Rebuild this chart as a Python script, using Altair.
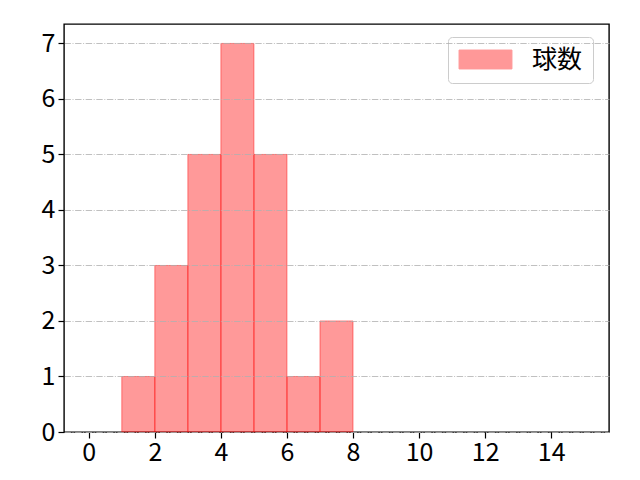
import altair as alt
import pandas as pd

bin_start = [1, 2, 3, 4, 5, 6, 7]
bin_end = [2, 3, 4, 5, 6, 7, 8]
counts = [1, 3, 5, 7, 5, 1, 2]
series = ["球数"] * len(counts)

x_ticks = [0, 2, 4, 6, 8, 10, 12, 14]
y_ticks = [0, 1, 2, 3, 4, 5, 6, 7]

df = pd.DataFrame({"start": bin_start, "end": bin_end, "count": counts, "series": series})

FONT = "Noto Sans CJK JP"
TICK_FS = 25

bars = alt.Chart(df).mark_rect(
    fillOpacity=0.4, stroke="#ff0000", strokeOpacity=0.45, strokeWidth=1
).encode(
    x=alt.X("start:Q",
            scale=alt.Scale(domain=[-0.75, 15.75], nice=False, zero=False),
            axis=alt.Axis(values=x_ticks, title=None, grid=False, format="d",
                          labelFontSize=TICK_FS, labelFont=FONT, labelColor="black",
                          tickColor="black", tickSize=6, tickWidth=1.2,
                          domain=False, labelPadding=2, labelFlush=False)),
    x2="end:Q",
    y=alt.Y("count:Q",
            scale=alt.Scale(domain=[0, 7.35], nice=False),
            axis=alt.Axis(values=y_ticks, title=None, grid=True, format="d",
                          gridColor="#b0b0b0", gridDash=[6.4, 1.6, 1, 1.6], gridWidth=0.8,
                          labelFontSize=TICK_FS, labelFont=FONT, labelColor="black",
                          tickColor="black", tickSize=6, tickWidth=1.2,
                          domain=False, labelPadding=3, zindex=1)),
    y2=alt.datum(0),
    fill=alt.Fill("series:N", scale=alt.Scale(range=["#ff0000"]),
                  legend=alt.Legend(
                      title=None, orient="none", legendX=384, legendY=13,
                      fillColor="white", strokeColor="#cccccc", cornerRadius=4,
                      padding=10,
                      symbolType="M-2.32,-0.83L2.32,-0.83L2.32,0.83L-2.32,0.83Z",
                      symbolSize=520, symbolOffset=15, symbolOpacity=0.4,
                      symbolStrokeColor="#ff0000", symbolStrokeWidth=1,
                      labelFontSize=25, labelFont=FONT, labelColor="black",
                      labelOffset=34)),
).properties(width=545, height=408)

chart = bars.properties(
    autosize=alt.AutoSizeParams(type="none"),
    padding={"left": 56, "top": 16, "right": 23, "bottom": 40},
).configure_view(stroke="black", strokeWidth=1.4)

chart.save("out.html", embed_options={"renderer": "svg", "actions": False})
